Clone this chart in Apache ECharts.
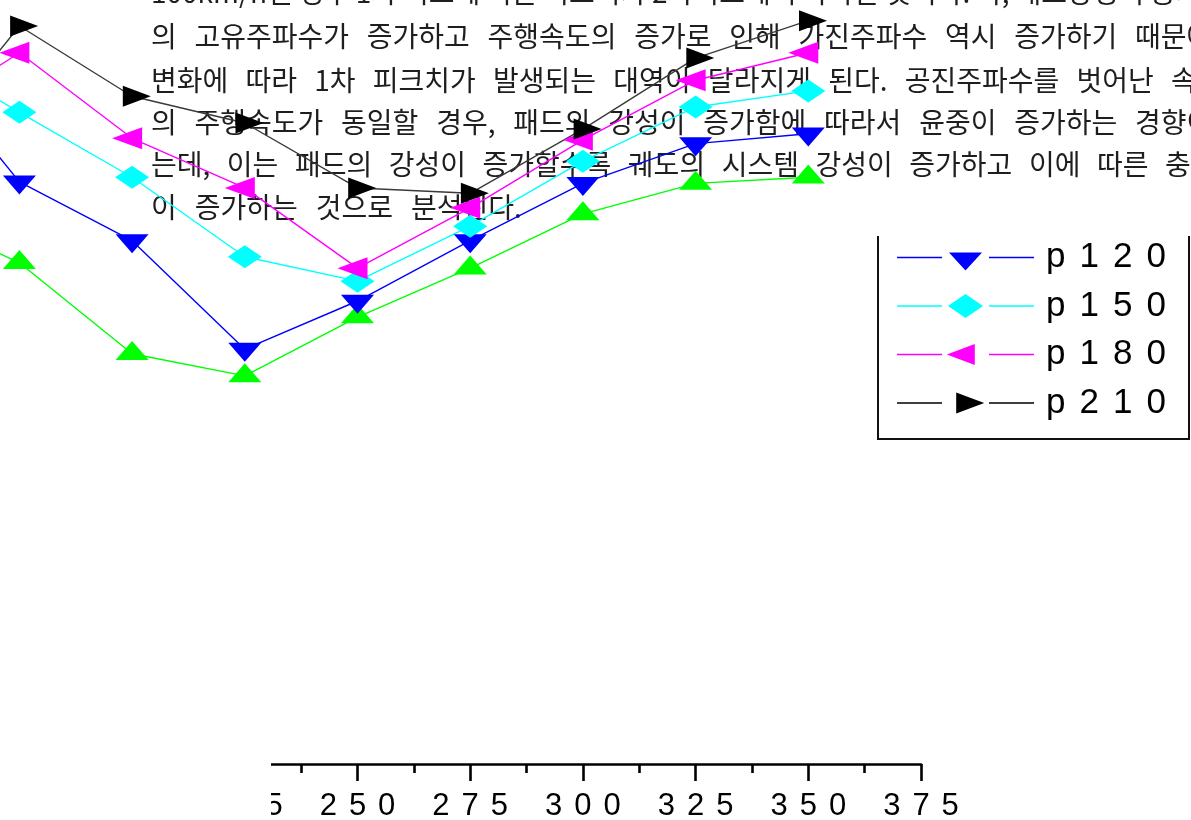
<!DOCTYPE html>
<html>
<head>
<meta charset="utf-8">
<script src="https://cdn.jsdelivr.net/npm/echarts@6/dist/echarts.min.js"></script>
<style>
html,body{margin:0;padding:0;background:#fff;}
#chart{width:1191px;height:820px;}
</style>
</head>
<body>
<div id="chart"></div>
<script>
// ---- data ----
const speeds = [150, 175, 200, 225, 250, 275, 300, 325, 350];
const p90  = [72.5, 65.6, 53.7, 50.8, 58.5, 64.9, 72.0, 76.0, 76.8];
const p120 = [94.5, 76.2, 68.5, 54.3, 60.6, 68.5, 76.0, 81.2, 82.5];
const p150 = [94.1, 85.3, 76.8, 66.4, 63.2, 70.4, 78.9, 86.0, 88.1];
const p180 = [83.6, 93.1, 81.9, 75.4, 64.9, 72.8, 81.7, 89.5, 93.1];
const p210 = [78.3, 96.6, 87.4, 83.9, 75.4, 74.7, 83.1, 92.4, 97.3];
const legendNames = ['p120', 'p150', 'p180', 'p210'];

// paragraph text lying under the chart
const paraLines = [
  ['100km/h일', '경우', '1차', '피크에', '이른', '피크치가', '2차피크에서', '나타날', '것이다.', '즉,', '패드강성이', '증가하면'],
  ['의', '고유주파수가', '증가하고', '주행속도의', '증가로', '인해', '가진주파수', '역시', '증가하기', '때문에'],
  ['변화에', '따라', '1차', '피크치가', '발생되는', '대역이', '달라지게', '된다.', '공진주파수를', '벗어난', '속도에서는'],
  ['의', '주행속도가', '동일할', '경우,', '패드의', '강성이', '증가함에', '따라서', '윤중이', '증가하는', '경향이'],
  ['는데,', '이는', '패드의', '강성이', '증가할수록', '궤도의', '시스템', '강성이', '증가하고', '이에', '따른', '충격하중이'],
  ['이', '증가하는', '것으로', '분석된다.']
];
const paraLastWordX = [1150, 1135, 1171, 1135, 1165, null];
const paraY = [-8, 36, 80, 122, 164, 207];

function zip(ys) { return speeds.map((s, i) => [s, ys[i]]); }

const textFont = '28px "Noto Sans CJK KR"';
const cv = document.createElement('canvas').getContext('2d');
cv.font = textFont;
const graphics = [];
paraLines.forEach((words, li) => {
  const widths = words.map(w => cv.measureText(w).width);
  let gap = 18;
  if (paraLastWordX[li] != null) {
    const used = widths.slice(0, -1).reduce((a, b) => a + b, 0);
    gap = (paraLastWordX[li] - 151 - used) / (words.length - 1);
  }
  let x = 151;
  words.forEach((w, wi) => {
    graphics.push({
      type: 'text', z: 0, silent: true,
      style: { text: w, x: x, y: paraY[li], font: textFont, fill: '#1e1e1e',
               textVerticalAlign: 'middle', verticalAlign: 'middle', textAlign: 'left', align: 'left' }
    });
    x += widths[wi] + gap;
  });
});
// legend frame (top side hidden in the picture)
graphics.push({
  type: 'polyline', z: 10, silent: true,
  shape: { points: [[878, 236], [878, 439], [1189, 439], [1189, 236]] },
  style: { stroke: '#111', lineWidth: 2, fill: null }
});
// white patch hiding the left end of the x axis
graphics.push({
  type: 'rect', z: 100, silent: true,
  shape: { x: 0, y: 745, width: 271, height: 75 },
  style: { fill: '#fff' }
});

const bb = 'M0,0 L0.01,0 L0,0.01 Z M137,28 L136.99,28 L137,27.99 Z ';
const ln = 'M0,13.2 L45,13.2 L45,14.8 L0,14.8 Z M92,13.2 L137,13.2 L137,14.8 L92,14.8 Z ';
const icons = {
  p120: 'path://' + bb + ln + 'M52,9 L85,9 L68.5,27 Z',
  p150: 'path://' + bb + ln + 'M51,14 L68.5,2 L86,14 L68.5,26 Z',
  p180: 'path://' + bb + ln + 'M49.8,14 L77.8,3.5 L77.8,24.5 Z',
  p210: 'path://' + bb + ln + 'M59.2,3.5 L87.2,14 L59.2,24.5 Z'
};

function spaced(str, style) {
  return String(str).split('').map(c => '{' + style + '|' + c + '}').join('');
}

const lineW = 1.4;
function mk(name, data, color, lineColor, symbolSize, rotate, offset) {
  return {
    name: name, type: 'line', data: zip(data),
    symbol: 'triangle', symbolSize: symbolSize, symbolRotate: rotate, symbolOffset: offset,
    itemStyle: { color: color, borderWidth: 0 },
    lineStyle: { color: lineColor, width: lineW },
    emphasis: { disabled: true }, animation: false
  };
}

const series = [
  mk('p90', p90, '#00ff00', '#00ff00', [33, 19], 0, [0, -3.2]),
  mk('p120', p120, '#0000ff', '#0000ff', [33, 19], 180, [0, 3.2]),
  Object.assign(mk('p150', p150, '#00ffff', '#00ffff', [34, 23], 0, [0, 0]), { symbol: 'diamond' }),
  mk('p180', p180, '#ff00ff', '#ff00ff', [22, 30], 90, [-5, 0]),
  mk('p210', p210, '#000000', '#3a3a3a', [21, 28], -90, [4.7, 0])
];

const chart = echarts.init(document.getElementById('chart'), null, { renderer: 'canvas' });
chart.setOption({
  backgroundColor: '#fff',
  animation: false,
  grid: { left: -93.3, right: 270, top: 0, bottom: 56, containLabel: false, outerBoundsMode: 'none' },
  xAxis: {
    type: 'value', min: 150, max: 375, interval: 25,
    axisLine: { show: true, onZero: false, lineStyle: { color: '#000', width: 2.6 } },
    axisTick: { show: true, inside: false, length: 17, lineStyle: { color: '#000', width: 2.6 } },
    minorTick: { show: true, splitNumber: 2, length: 9, lineStyle: { color: '#000', width: 2.6 } },
    splitLine: { show: false },
    axisLabel: {
      margin: 27, color: '#000',
      formatter: v => spaced(v, 'd'),
      rich: { d: { fontSize: 31, fontFamily: '"Liberation Sans", Arial, sans-serif', color: '#000', padding: [0, 6, 0, 6] } }
    }
  },
  yAxis: { type: 'value', min: 0, max: 100, show: false, splitLine: { show: false } },
  legend: {
    show: true, orient: 'vertical', left: 892, top: 235,
    itemWidth: 137, itemHeight: 28, itemGap: 13.5, selectedMode: false,
    itemStyle: { borderWidth: 0 },
    data: legendNames.map(n => ({ name: n, icon: icons[n] })),
    formatter: name => '{f|' + name[0] + '}' + spaced(name.slice(1), 'd'),
    textStyle: {
      color: '#000',
      rich: {
        f: { fontSize: 35, lineHeight: 40, fontFamily: '"Liberation Sans", Arial, sans-serif', color: '#000', padding: [0, 7, 0, 7] },
        d: { fontSize: 35, lineHeight: 40, fontFamily: '"Liberation Sans", Arial, sans-serif', color: '#000', padding: [0, 7, 0, 7] }
      }
    }
  },
  graphic: { elements: graphics },
  series: series
});
</script>
</body>
</html>
